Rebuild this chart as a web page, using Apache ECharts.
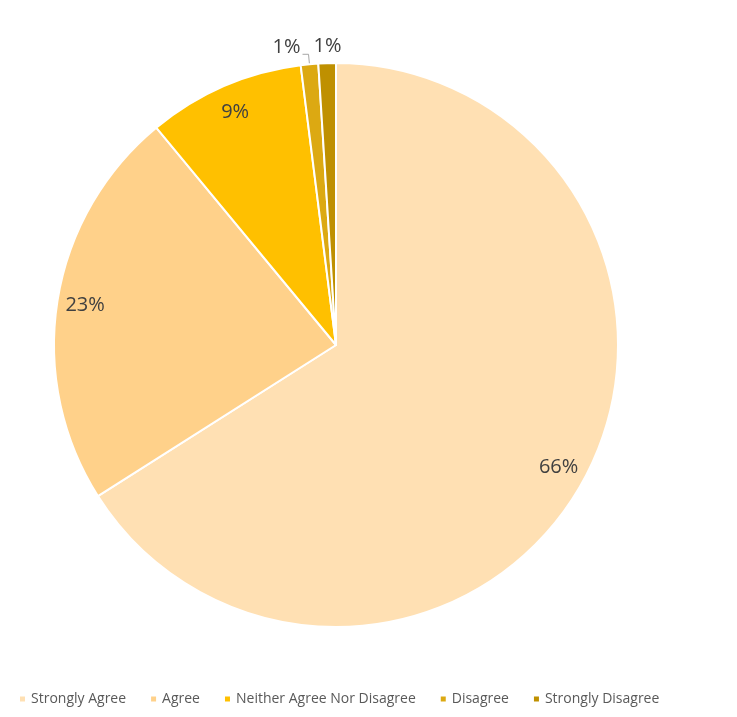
<!DOCTYPE html>
<html>
<head>
<meta charset="utf-8">
<script src="https://cdn.jsdelivr.net/npm/echarts@6/dist/echarts.min.js"></script>
<style>
  html, body { margin: 0; padding: 0; background: #fff; }
  #main { width: 737px; height: 717px; }
</style>
</head>
<body>
<div id="main"></div>
<script>
// survey answers, clockwise from 12 o'clock
const categories = ['Strongly Agree', 'Agree', 'Neither Agree Nor Disagree', 'Disagree', 'Strongly Disagree']
const shares = [66, 23, 9, 1, 1]
const colors = ['#FFE0B3', '#FFD18A', '#FFC000', '#DCA912', '#BF9000']

const chart = echarts.init(document.getElementById('main'))

const textStyle = { color: '#404040', fontSize: 20, fontFamily: 'Open Sans' }

const pieData = categories.map((name, i) => {
  const item = { name: name, value: shares[i] }
  // Disagree label sits outside with a short leader line
  if (i === 3) {
    item.label = { show: true, position: 'outside', formatter: '{d}%', ...textStyle, distanceToLabelLine: 2, offset: [0, -7] }
    item.labelLine = { show: true, length: 10, length2: 6, lineStyle: { color: '#a6a6a6', width: 1 } }
  }
  return item
})

// invisible ring: labels of the big slices near the rim
const innerLabels = categories.map((name, i) => ({
  name: name,
  value: shares[i],
  label: { show: i < 3 }
}))

// invisible ring just outside the pie: Strongly Disagree label
const outerLabels = categories.map((name, i) => ({
  name: name,
  value: shares[i],
  label: { show: i === 4, offset: [1, 5] }
}))

chart.setOption({
  color: colors,
  animation: false,
  legend: {
    bottom: 6,
    left: 13,
    itemWidth: 7,
    itemHeight: 7,
    itemGap: 23,
    icon: 'rect',
    textStyle: { color: '#595959', fontSize: 14, fontFamily: 'Open Sans' },
    data: categories
  },
  series: [
    {
      name: 'answers',
      type: 'pie',
      center: [336, 345],
      radius: 282,
      startAngle: 90,
      clockwise: true,
      avoidLabelOverlap: false,
      labelLayout: { hideOverlap: false },
      itemStyle: { borderColor: '#fff', borderWidth: 2 },
      label: { show: false },
      labelLine: { show: false },
      data: pieData
    },
    {
      name: 'labels',
      type: 'pie',
      center: [336, 345],
      radius: [220, 282],
      startAngle: 90,
      clockwise: true,
      silent: true,
      legendHoverLink: false,
      itemStyle: { color: 'transparent' },
      label: { position: 'inside', formatter: '{d}%', ...textStyle },
      labelLine: { show: false },
      labelLayout: { hideOverlap: false },
      data: innerLabels
    },
    {
      name: 'outerLabels',
      type: 'pie',
      center: [336, 345],
      radius: [290, 312],
      startAngle: 90,
      clockwise: true,
      silent: true,
      legendHoverLink: false,
      itemStyle: { color: 'transparent' },
      label: { position: 'inside', formatter: '{d}%', ...textStyle },
      labelLine: { show: false },
      labelLayout: { hideOverlap: false },
      data: outerLabels
    }
  ]
})
</script>
</body>
</html>
